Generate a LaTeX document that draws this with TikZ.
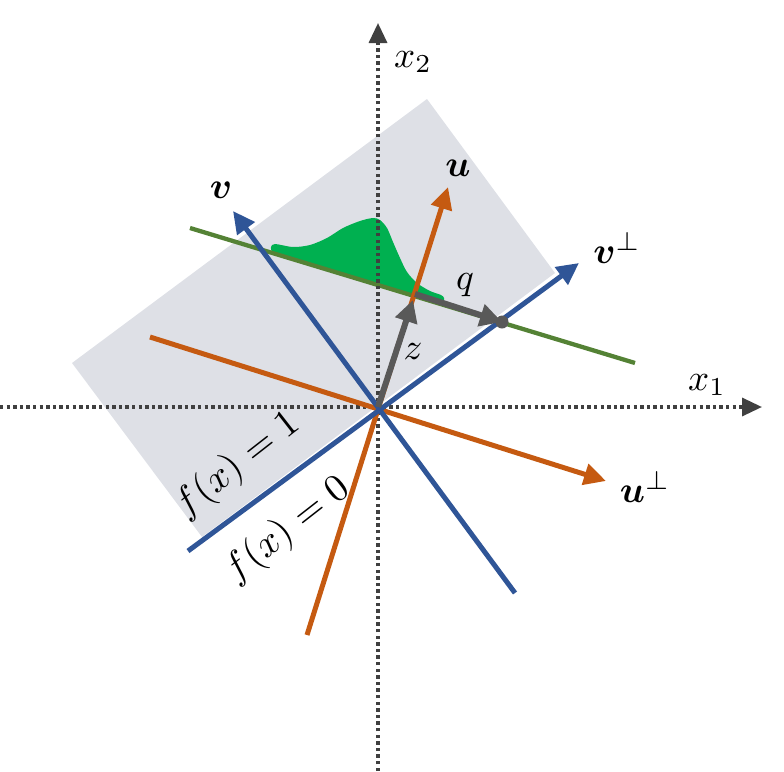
\documentclass[tikz,border=0pt]{standalone}
\usepackage{graphicx}
\usepackage{amsmath,bm}
\usetikzlibrary{arrows.meta}
\definecolor{cblue}{HTML}{2F5597}
\definecolor{corange}{HTML}{C55A11}
\definecolor{cgreen}{HTML}{548235}
\definecolor{cgauss}{HTML}{00B050}
\definecolor{cgrayarrow}{HTML}{595959}
\definecolor{caxis}{HTML}{404040}
\definecolor{cregion}{HTML}{DEE0E6}
\newcommand{\bigtxt}[1]{\scalebox{3.7}{#1}}
\newcommand{\eqtxt}[1]{\scalebox{3.9}{#1}}
\tikzset{
  axisline/.style={caxis, line width=3.4pt, dash pattern=on 3.4pt off 3.2pt, -{Triangle[length=20pt,width=18pt]}},
  blueline/.style={cblue, line width=5pt},
  orangeline/.style={corange, line width=5pt},
  greenline/.style={cgreen, line width=4.3pt},
  grayarrow/.style={cgrayarrow, line width=6pt, -{Triangle[length=22pt,width=22pt]}},
  colarrow/.style={-{Triangle[length=22pt,width=21pt]}},
  lbl/.style={inner sep=0pt},
}
\begin{document}
\begin{tikzpicture}[x=1pt,y=-1pt]
\useasboundingbox (0,0) rectangle (784,771);
% coordinates
\coordinate (O) at (378,407);
\coordinate (R1) at (72,363);
\coordinate (R2) at (427,99);
\coordinate (R3) at (555,273);
\coordinate (R4) at (202,537);
\coordinate (x1s) at (0,407);
\coordinate (x1e) at (762,407);
\coordinate (x2s) at (378,771);
\coordinate (x2e) at (378,23);
\coordinate (upa) at (150,337);
\coordinate (upb) at (606,481);
\coordinate (ua) at (307,635);
\coordinate (ub) at (448,187);
\coordinate (va) at (515,593);
\coordinate (vb) at (233,211);
\coordinate (vpa) at (188,551);
\coordinate (vpb) at (579,263);
\coordinate (ga) at (190,228);
\coordinate (gb) at (635,363);
\coordinate (qa) at (415,294);
\coordinate (zt) at (413,300);
% region
\fill[cregion] (R1) -- (R2) -- (R3) -- (R4) -- cycle;
% gaussian
\fill[cgauss] plot[smooth, tension=0.5] coordinates {(272,253) (271,247) (275,244) (293,247) (310,245) (327,238) (343,228) (360,221) (373,218) (380,220) (387,228) (393,242) (400,258) (407,272) (417,283) (430,291) (441,295) (444,298) (444,303)} -- cycle;
% green line
\draw[greenline] (ga) -- (gb);
% axes
\draw[axisline] (x1s) -- (x1e);
\draw[axisline] (x2s) -- (x2e);
% orange lines
\draw[orangeline, colarrow] (upa) -- (upb);
\draw[orangeline, colarrow] (ua) -- (ub);
% blue lines
\draw[blueline, colarrow] (va) -- (vb);
\draw[blueline, colarrow] (vpa) -- (vpb);
% gray arrows
\node[circle, fill=cgrayarrow, minimum size=13pt, inner sep=0pt] (dot) at (502,322) {};
\draw[grayarrow] (qa) -- (dot.center);
\draw[grayarrow] (O) -- (zt);
% labels
\node[lbl] (lx2) at (413,62) {\bigtxt{$x_2$}};
\node[lbl] (lx1) at (707,385) {\bigtxt{$x_1$}};
\node[lbl] (lv) at (221,190) {\bigtxt{$\bm{v}$}};
\node[lbl] (lu) at (458,168) {\bigtxt{$\bm{u}$}};
\node[lbl] (lvp) at (617,248) {\bigtxt{$\bm{v}^{\perp}$}};
\node[lbl] (lup) at (645,487) {\bigtxt{$\bm{u}^{\perp}$}};
\node[lbl] (lq) at (465,285) {\bigtxt{$q$}};
\node[lbl] (lz) at (413,352) {\bigtxt{$z$}};
\node[lbl, rotate=38] (lf1) at (238,465) {\eqtxt{$f(x)=1$}};
\node[lbl, rotate=38] (lf0) at (288,530) {\eqtxt{$f(x)=0$}};
\end{tikzpicture}
\end{document}
